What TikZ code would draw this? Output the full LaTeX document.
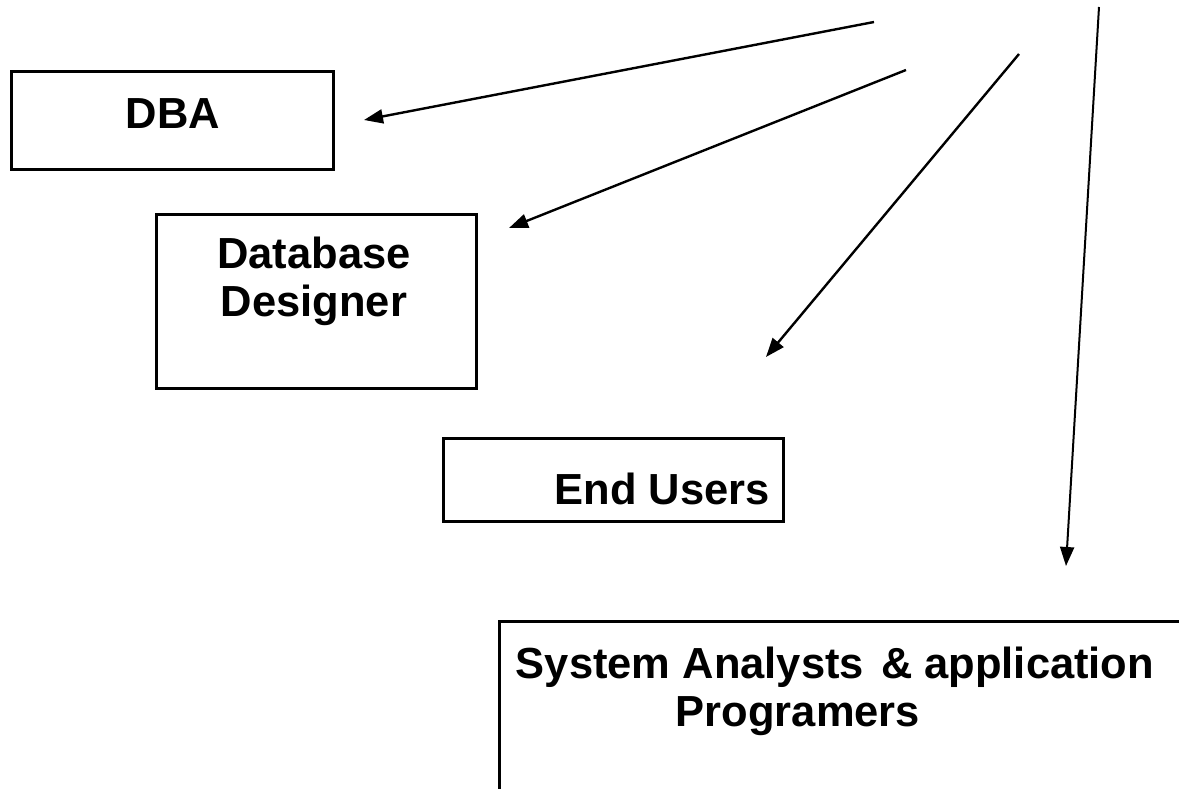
\documentclass[tikz,border=0pt]{standalone}
\usepackage{fontspec}
\setmainfont{Liberation Sans}
\usetikzlibrary{arrows.meta,calc}

\begin{document}
\begin{tikzpicture}[x=1pt,y=-1pt,
  box/.style={draw,line width=2.6pt,inner sep=0pt,anchor=north west},
  txt/.style={anchor=base,inner sep=0pt,font=\fontsize{43.5}{52}\bfseries\selectfont},
  arr/.style={-{Triangle[length=19pt,width=14pt]},line width=2.4pt}]
\useasboundingbox (0,0) rectangle (1179,789);
\clip (0,0) rectangle (1179,789);
% boxes
\node[box,minimum width=322pt,minimum height=98pt] (dba) at (10,70) {};
\node[txt] (dbatxt) at (173,129) {DBA};
\node[box,minimum width=320pt,minimum height=174pt] (designer) at (155,213) {};
\node[txt] (designertxta) at (314,269) {Database};
\node[txt] (designertxtb) at (314,316) {Designer};
\node[box,minimum width=340pt,minimum height=83pt] (users) at (442,437) {};
\node[txt] (userstxt) at (662,504) {End Users};
\node[box,minimum width=800pt,minimum height=300pt] (analysts) at (498,620) {};
\node[txt] (analyststxta) at (835,678) {System Analysts\ \hspace{5pt}\& application};
\node[txt] (analyststxtb) at (798,726) {Programers};
% arrow ends
\coordinate (s1) at (874,22);
\coordinate (e1) at (364,120);
\coordinate (s2) at (906,70);
\coordinate (e2) at (509,228);
\coordinate (s3) at (1019,54);
\coordinate (e3) at (766,357);
\coordinate (s4) at (1099,7);
\coordinate (e4) at (1066,566);
\draw[arr] (s1) -- (e1);
\draw[arr] (s2) -- (e2);
\draw[arr] (s3) -- (e3);
\draw[arr,line width=2pt] (s4) -- (e4);
\end{tikzpicture}
\end{document}
